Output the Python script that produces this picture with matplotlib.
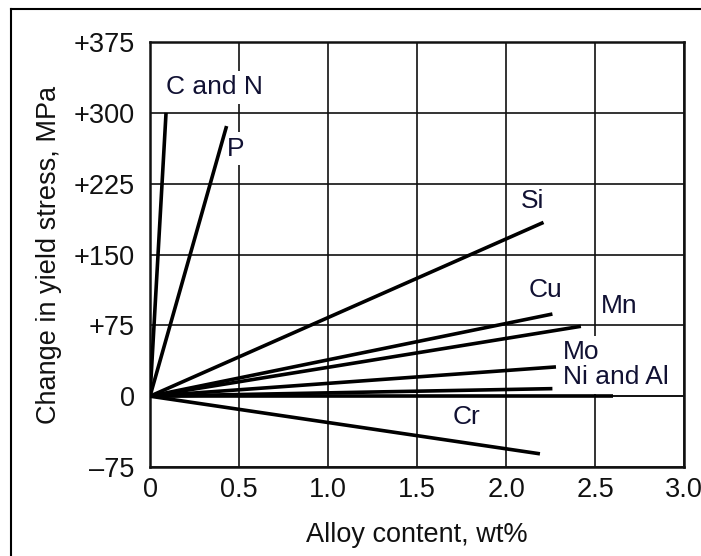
import matplotlib
matplotlib.use("Agg")
import matplotlib.pyplot as plt
from matplotlib.lines import Line2D

plt.rcParams['font.family'] = ['Liberation Sans', 'DejaVu Sans']

# end points of each alloying-element line (all start at the origin)
elements = ['C and N', 'P', 'Si', 'Cu', 'Mn', 'Mo', 'Ni and Al', None, 'Cr']
end_x = [0.09, 0.43, 2.21, 2.26, 2.42, 2.28, 2.26, 2.60, 2.19]
end_y = [300, 286, 184, 87, 74, 31, 8, 0, -61]

# label anchor positions (data units)
label_x = [0.09, 0.43, 2.15, 2.22, 2.53, 2.32, 2.32, None, 1.78]
label_y = [327, 262, 207, 112, 96, 47, 20, None, -22]
label_ha = ['left', 'left', 'center', 'center', 'left', 'left', 'left', None, 'center']
label_box = [True, True, False, False, False, True, True, None, False]

xticks = [0, 0.5, 1.0, 1.5, 2.0, 2.5, 3.0]
xticklabels = ['0', '0.5', '1.0', '1.5', '2.0', '2.5', '3.0']
yticks = [-75, 0, 75, 150, 225, 300, 375]
yticklabels = ['\u201375', '0', '+75', '+150', '+225', '+300', '+375']

fig = plt.figure(figsize=(7.01, 5.56), dpi=100)
ax = fig.add_axes([0.214, 0.160, 0.762, 0.7645])

ax.set_xlim(0, 3.0)
ax.set_ylim(-75, 375)
ax.set_xticks(xticks)
ax.set_xticklabels(xticklabels)
ax.set_yticks(yticks)
ax.set_yticklabels(yticklabels)
ax.tick_params(length=0, labelsize=19.5, colors='#111111', pad=7)
ax.tick_params(axis='y', pad=11)
ax.grid(True, color='#111111', lw=1.2, zorder=0)
ax.set_axisbelow(True)
# zero line sits above the label boxes
ax.axhline(0, color='#111111', lw=1.2, zorder=2.5)
for s in ax.spines.values():
    s.set_linewidth(1.8)
    s.set_color('#111111')

for i in range(len(end_x)):
    ax.plot([0, end_x[i]], [0, end_y[i]], color='black', lw=2.6,
            solid_capstyle='butt', zorder=3)
    if elements[i] is None:
        continue
    box = None
    if label_box[i]:
        box = dict(facecolor='white', edgecolor='none', pad=3)
    ax.text(label_x[i], label_y[i], elements[i], fontsize=19,
            ha=label_ha[i], va='center', color='#111133', bbox=box, zorder=2)

ax.set_xlabel('Alloy content, wt%', fontsize=19.5, color='#111111', labelpad=14)
ax.set_ylabel('Change in yield stress, MPa', fontsize=19.5, color='#111111', labelpad=8)

# partial frame around the figure (top and left only)
fig.add_artist(Line2D([0.0157, 1.0], [0.984, 0.984], color='black', lw=1.5,
                      transform=fig.transFigure))
fig.add_artist(Line2D([0.0157, 0.0157], [0.0, 0.984], color='black', lw=1.5,
                      transform=fig.transFigure))

fig.savefig('out.png', dpi=100)
